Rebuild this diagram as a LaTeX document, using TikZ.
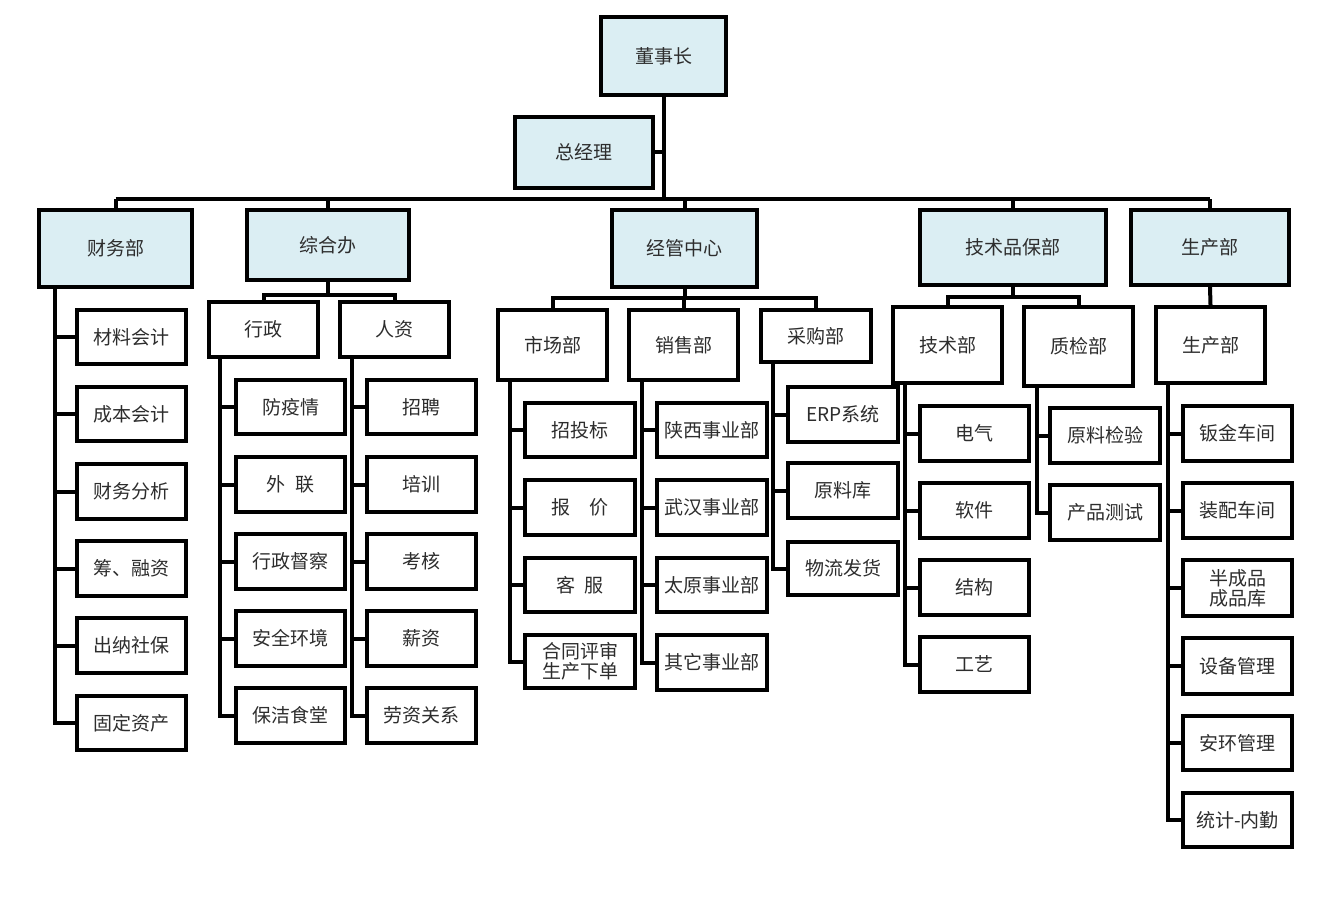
\documentclass[tikz,border=0pt]{standalone}
\usepackage{fontspec}
\newfontfamily\cjk{Noto Sans CJK SC}
\definecolor{boxblue}{RGB}{219,238,243}
\definecolor{txt}{RGB}{45,45,45}
\tikzset{
  base/.style={draw=black, line width=4pt, inner sep=0pt, align=center, text=txt,
    font=\cjk\fontsize{19}{23}\selectfont},
  bluebox/.style={base, fill=boxblue},
  whitebox/.style={base, fill=white},
  conn/.style={draw=black, line width=4pt}
}
% \bx{style}{name}{x1}{y1}{x2}{y2}{text}
\newcommand\bx[7]{\node[#1, minimum width={(#5-#3)*1pt}, minimum height={(#6-#4)*1pt}] (#2) at ({(#3+#5)/2},{(#4+#6)/2}) {#7};}
\begin{document}
\begin{tikzpicture}[x=1pt,y=-1pt]
\useasboundingbox[fill=white] (0,0) rectangle (1341,904);
% coordinates for buses and verticals
\coordinate (bus) at (0,199);
\coordinate (zb) at (0,295);
\coordinate (jb) at (0,298);
\coordinate (tb) at (0,297);
\coordinate (vcw) at (55,0);
\coordinate (vxz) at (220,0);
\coordinate (vrz) at (352,0);
\coordinate (vsc) at (510,0);
\coordinate (vxs) at (642,0);
\coordinate (vcg) at (773,0);
\coordinate (vjs) at (905,0);
\coordinate (vzj) at (1037,0);
\coordinate (vsc2) at (1168,0);

% top
\bx{bluebox}{dsz}{601}{17}{726}{95}{董事长}
\bx{bluebox}{zjl}{515}{117}{653}{188}{总经理}
% level 2
\bx{bluebox}{cw}{39}{210}{192}{287}{财务部}
\bx{bluebox}{zhb}{247}{210}{409}{280}{综合办}
\bx{bluebox}{jg}{612}{210}{757}{287}{经管中心}
\bx{bluebox}{jsp}{920}{210}{1106}{285}{技术品保部}
\bx{bluebox}{scb}{1131}{210}{1289}{285}{生产部}
% level 3
\bx{whitebox}{xz}{209}{302}{318}{357}{行政}
\bx{whitebox}{rz}{340}{302}{449}{357}{人资}
\bx{whitebox}{sc}{498}{310}{607}{380}{市场部}
\bx{whitebox}{xs}{629}{310}{738}{380}{销售部}
\bx{whitebox}{cg}{761}{310}{871}{362}{采购部}
\bx{whitebox}{js}{893}{307}{1002}{383}{技术部}
\bx{whitebox}{zj}{1024}{307}{1133}{386}{质检部}
\bx{whitebox}{sc2}{1156}{307}{1265}{383}{生产部}
% 财务部 children
\bx{whitebox}{cw1}{77}{310}{186}{364}{材料会计}
\bx{whitebox}{cw2}{77}{387}{186}{441}{成本会计}
\bx{whitebox}{cw3}{77}{464}{186}{519}{财务分析}
\bx{whitebox}{cw4}{77}{541}{186}{596}{筹、融资}
\bx{whitebox}{cw5}{77}{618}{186}{673}{出纳社保}
\bx{whitebox}{cw6}{77}{696}{186}{750}{固定资产}
% 行政 children
\bx{whitebox}{xz1}{236}{380}{345}{434}{防疫情}
\bx{whitebox}{xz2}{236}{457}{345}{512}{外\hspace{0.5em}联}
\bx{whitebox}{xz3}{236}{534}{345}{589}{行政督察}
\bx{whitebox}{xz4}{236}{611}{345}{666}{安全环境}
\bx{whitebox}{xz5}{236}{688}{345}{743}{保洁食堂}
% 人资 children
\bx{whitebox}{rz1}{367}{380}{476}{434}{招聘}
\bx{whitebox}{rz2}{367}{457}{476}{512}{培训}
\bx{whitebox}{rz3}{367}{534}{476}{589}{考核}
\bx{whitebox}{rz4}{367}{611}{476}{666}{薪资}
\bx{whitebox}{rz5}{367}{688}{476}{743}{劳资关系}
% 市场部 children
\bx{whitebox}{sc1}{525}{403}{635}{457}{招投标}
\bx{whitebox}{sc2a}{525}{480}{635}{535}{报\hspace{1em}价}
\bx{whitebox}{sc3}{525}{558}{635}{612}{客\hspace{0.5em}服}
\bx{whitebox}{sc4}{525}{635}{635}{688}{合同评审\\[-3pt]生产下单}
% 销售部 children
\bx{whitebox}{xs1}{657}{403}{767}{457}{陕西事业部}
\bx{whitebox}{xs2}{657}{480}{767}{535}{武汉事业部}
\bx{whitebox}{xs3}{657}{558}{767}{612}{太原事业部}
\bx{whitebox}{xs4}{657}{635}{767}{690}{其它事业部}
% 采购部 children
\bx{whitebox}{cg1}{788}{387}{898}{442}{ERP系统}
\bx{whitebox}{cg2}{788}{463}{898}{518}{原料库}
\bx{whitebox}{cg3}{788}{542}{898}{595}{物流发货}
% 技术部 children
\bx{whitebox}{js1}{920}{406}{1029}{461}{电气}
\bx{whitebox}{js2}{920}{483}{1029}{538}{软件}
\bx{whitebox}{js3}{920}{560}{1029}{615}{结构}
\bx{whitebox}{js4}{920}{637}{1029}{692}{工艺}
% 质检部 children
\bx{whitebox}{zj1}{1050}{408}{1160}{463}{原料检验}
\bx{whitebox}{zj2}{1050}{485}{1160}{540}{产品测试}
% 生产部 children
\bx{whitebox}{sp1}{1183}{406}{1292}{461}{钣金车间}
\bx{whitebox}{sp2}{1183}{483}{1292}{538}{装配车间}
\bx{whitebox}{sp3}{1183}{560}{1292}{616}{半成品\\[-3pt]成品库}
\bx{whitebox}{sp4}{1183}{638}{1292}{694}{设备管理}
\bx{whitebox}{sp5}{1183}{716}{1292}{770}{安环管理}
\bx{whitebox}{sp6}{1183}{793}{1292}{847}{统计-内勤}

% connectors: top
\begin{scope}[on background layer/.try]
\end{scope}
\path[conn] (dsz.south) -- (dsz.south |- bus);
\path[conn] (zjl.east) -- (zjl.east -| dsz.south);
\path[conn] (cw.north |- bus) -- (scb.north |- bus);
\foreach \n in {cw,zhb,jg,jsp,scb} { \path[conn] (\n.north) -- (\n.north |- bus); }
% 综合办
\path[conn] (zhb.south) -- (zhb.south |- zb);
\path[conn] (xz.north) -- (xz.north |- zb) -- (rz.north |- zb) -- (rz.north);
% 经管中心
\path[conn] (jg.south) -- (jg.south |- jb);
\path[conn] (sc.north) -- (sc.north |- jb) -- (cg.north |- jb) -- (cg.north);
\path[conn] (xs.north) -- (xs.north |- jb);
% 技术品保部
\path[conn] (jsp.south) -- (jsp.south |- tb);
\path[conn] (js.north) -- (js.north |- tb) -- (zj.north |- tb) -- (zj.north);
% 生产部
\path[conn] (scb.south) -- (sc2.north);
% child lists
\path[conn] (cw.south -| vcw) |- (cw6.west);
\foreach \c in {cw1,cw2,cw3,cw4,cw5} { \path[conn] (\c.west) -- (\c.west -| vcw); }
\path[conn] (xz.south -| vxz) |- (xz5.west);
\foreach \c in {xz1,xz2,xz3,xz4} { \path[conn] (\c.west) -- (\c.west -| vxz); }
\path[conn] (rz.south -| vrz) |- (rz5.west);
\foreach \c in {rz1,rz2,rz3,rz4} { \path[conn] (\c.west) -- (\c.west -| vrz); }
\path[conn] (sc.south -| vsc) |- (sc4.west);
\foreach \c in {sc1,sc2a,sc3} { \path[conn] (\c.west) -- (\c.west -| vsc); }
\path[conn] (xs.south -| vxs) |- (xs4.west);
\foreach \c in {xs1,xs2,xs3} { \path[conn] (\c.west) -- (\c.west -| vxs); }
\path[conn] (cg.south -| vcg) |- (cg3.west);
\foreach \c in {cg1,cg2} { \path[conn] (\c.west) -- (\c.west -| vcg); }
\path[conn] (js.south -| vjs) |- (js4.west);
\foreach \c in {js1,js2,js3} { \path[conn] (\c.west) -- (\c.west -| vjs); }
\path[conn] (zj.south -| vzj) |- (zj2.west);
\path[conn] (zj1.west) -- (zj1.west -| vzj);
\path[conn] (sc2.south -| vsc2) |- (sp6.west);
\foreach \c in {sp1,sp2,sp3,sp4,sp5} { \path[conn] (\c.west) -- (\c.west -| vsc2); }
\end{tikzpicture}
\end{document}
